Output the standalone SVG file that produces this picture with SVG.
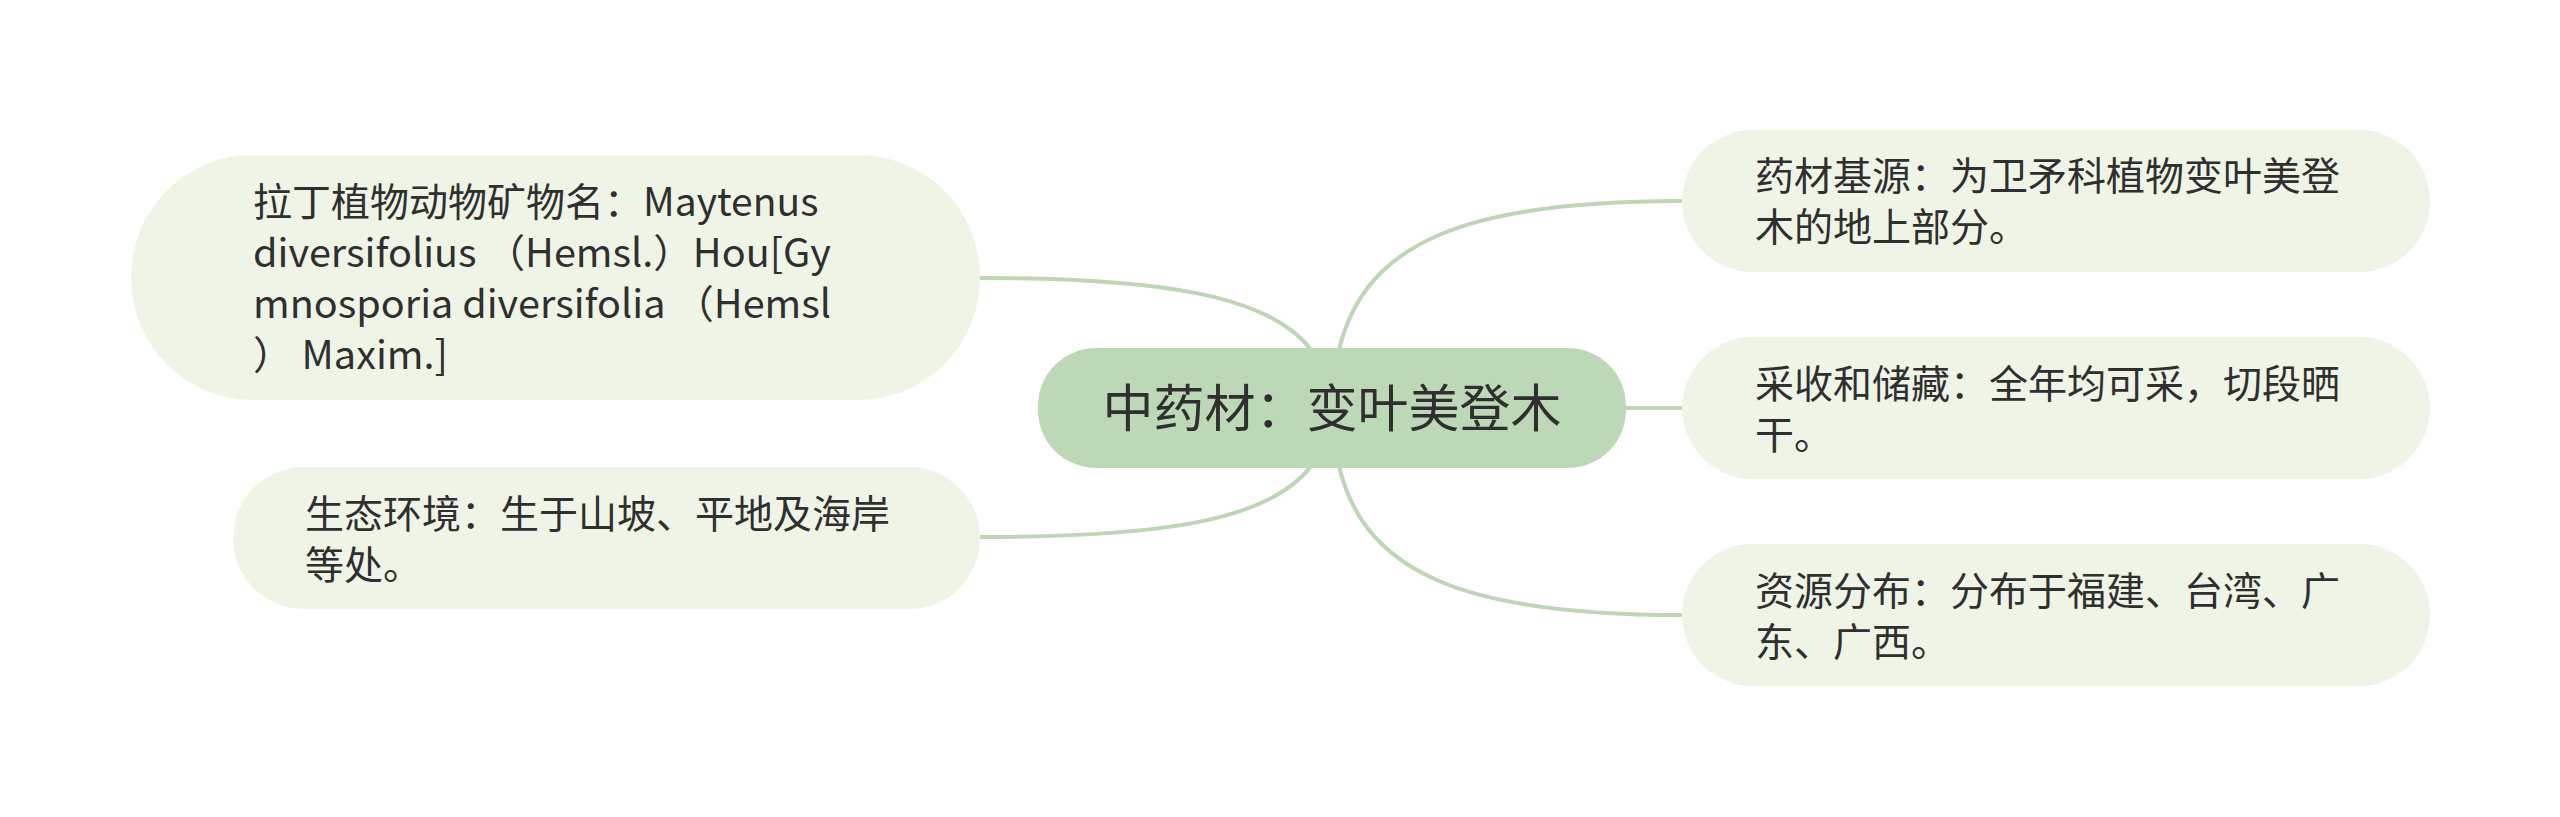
<svg xmlns="http://www.w3.org/2000/svg" width="2560" height="817" viewBox="0 0 2560 817">
<style>
.sub{fill:#eff5e6;}
.root{fill:#bdd8b7;}
.t{font-family:"Noto Sans CJK SC","Noto Sans",sans-serif;font-size:39px;fill:#2f2f2f;}
.rt{font-family:"Noto Sans CJK SC","Noto Sans",sans-serif;font-size:51px;fill:#2f2f2f;}
.c{fill:none;stroke:#bdd6b5;stroke-width:4;}
</style>
<rect width="2560" height="817" fill="#ffffff"/>
<g id="connectors">
<path class="c" d="M1311,350 C1270,295 1160,278 980,278"/>
<path class="c" d="M1311,466 C1270,521 1160,537 980,537"/>
<path class="c" d="M1339,350 C1365,240 1470,201 1682,201"/>
<path class="c" d="M1626,408 L1682,408"/>
<path class="c" d="M1339,466 C1365,576 1470,615 1682,615"/>
</g>
<g id="root">
<rect class="root" x="1038" y="348" width="588" height="120" rx="58"/>
<text class="rt" x="1332" y="427" text-anchor="middle">中药材：变叶美登木</text>
</g>
<g id="node-latin">
<rect class="sub" x="131" y="155" width="849" height="245" rx="122"/>
<text class="t" x="253" y="216">拉丁植物动物矿物名：Maytenus</text>
<text class="t" x="253" y="267" textLength="578" lengthAdjust="spacingAndGlyphs">diversifolius （Hemsl.）Hou[Gy</text>
<text class="t" x="253" y="318" textLength="578" lengthAdjust="spacingAndGlyphs">mnosporia diversifolia （Hemsl</text>
<text class="t" x="253" y="369" textLength="195" lengthAdjust="spacingAndGlyphs">） Maxim.]</text>
</g>
<g id="node-habitat">
<rect class="sub" x="233" y="467" width="747" height="142" rx="71"/>
<text class="t" x="305" y="528">生态环境：生于山坡、平地及海岸</text>
<text class="t" x="305" y="579">等处。</text>
</g>
<g id="node-source">
<rect class="sub" x="1682" y="130" width="748" height="142" rx="71"/>
<text class="t" x="1755" y="190">药材基源：为卫矛科植物变叶美登</text>
<text class="t" x="1755" y="241">木的地上部分。</text>
</g>
<g id="node-harvest">
<rect class="sub" x="1682" y="337" width="748" height="142" rx="71"/>
<text class="t" x="1755" y="398">采收和储藏：全年均可采，切段晒</text>
<text class="t" x="1755" y="449">干。</text>
</g>
<g id="node-distribution">
<rect class="sub" x="1682" y="544" width="748" height="142" rx="71"/>
<text class="t" x="1755" y="605">资源分布：分布于福建、台湾、广</text>
<text class="t" x="1755" y="656">东、广西。</text>
</g>
</svg>
